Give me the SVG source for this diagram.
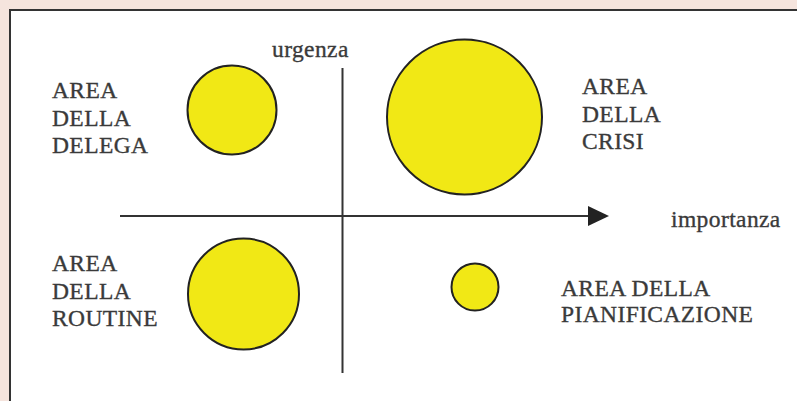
<svg xmlns="http://www.w3.org/2000/svg" width="797" height="401" viewBox="0 0 797 401">
<defs>
<style>
.bg{fill:#f5e4dd}
.panel{fill:#ffffff;stroke:#333;stroke-width:2}
.bub{fill:#f1e815;stroke:#222;stroke-width:2}
.axis{stroke:#333;stroke-width:2;fill:none}
text{font-family:"Liberation Serif","Times New Roman",serif;font-size:23.5px;fill:#3a3a3a;stroke:#3a3a3a;stroke-width:0.35px;letter-spacing:0.4px}
</style>
</defs>
<rect class="bg" x="0" y="0" width="797" height="401"/>
<rect class="panel" x="10" y="10" width="800" height="400"/>
<g id="connectors">
<line class="axis" x1="342.5" y1="68" x2="342.5" y2="373"/>
<line class="axis" x1="120" y1="216" x2="590" y2="216"/>
<path d="M588,206 L609,216 L588,226 Z" fill="#222"/>
</g>
<g id="urgenza"><text x="272" y="57">urgenza</text></g>
<g id="importanza"><text x="671" y="227">importanza</text></g>
<g id="delega">
<circle class="bub" cx="232" cy="110" r="44.5"/>
<text x="52" y="98">AREA</text>
<text x="52" y="126">DELLA</text>
<text x="52" y="153">DELEGA</text>
</g>
<g id="crisi">
<circle class="bub" cx="464.5" cy="117" r="77.5"/>
<text x="582" y="94">AREA</text>
<text x="582" y="122">DELLA</text>
<text x="582" y="149">CRISI</text>
</g>
<g id="routine">
<circle class="bub" cx="243.5" cy="294" r="55.5"/>
<text x="52" y="271">AREA</text>
<text x="52" y="299">DELLA</text>
<text x="52" y="326">ROUTINE</text>
</g>
<g id="pianificazione">
<circle class="bub" cx="475" cy="287" r="23.5"/>
<text x="561" y="296">AREA DELLA</text>
<text x="561" y="322">PIANIFICAZIONE</text>
</g>
</svg>
